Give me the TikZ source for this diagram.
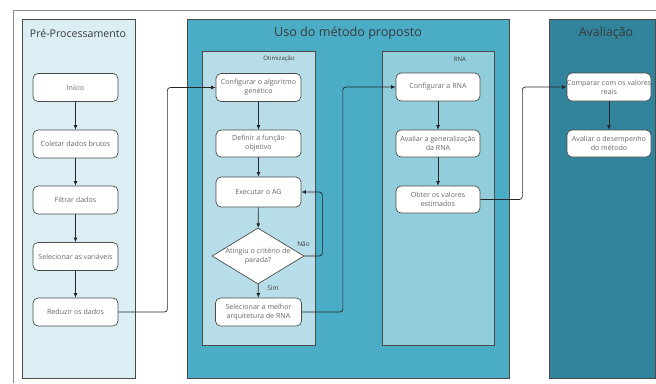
\documentclass[tikz,border=0pt]{standalone}
\usepackage{fontspec}
\setmainfont{Open Sans}
\usetikzlibrary{shapes.geometric,arrows.meta}
\definecolor{laneA}{HTML}{DBEEF4}
\definecolor{laneB}{HTML}{4BACC6}
\definecolor{laneC}{HTML}{31849B}
\definecolor{subA}{HTML}{B7DEE8}
\definecolor{subB}{HTML}{92CDDC}
\definecolor{edgegray}{HTML}{4A4A4A}
\definecolor{txtgray}{HTML}{666666}
\definecolor{titlegray}{HTML}{3A3A3A}
\definecolor{framegray}{HTML}{8C8C8C}
\newcommand{\fixline}[1]{\makebox[0pt]{#1}}
\tikzset{
  lanebox/.style={draw=edgegray, line width=0.7pt},
  subbox/.style={draw=edgegray, line width=0.7pt},
  stepbox/.style={draw=edgegray, fill=white, line width=0.7pt, rounded corners=5pt,
    minimum width=85pt, minimum height=28pt, align=center, text=txtgray,
    font=\fontsize{7.1}{8.8}\selectfont, inner sep=1pt},
  decbox/.style={diamond, draw=edgegray, fill=white, line width=0.7pt,
    minimum width=92pt, minimum height=56pt, align=center, text=txtgray,
    font=\fontsize{7.1}{8.8}\selectfont, inner sep=0pt},
  conn/.style={draw=black!85, line width=0.7pt, -{Latex[length=4.5pt,width=4pt]}},
  link/.style={conn, rounded corners=3pt},
  lanetitle/.style={text=titlegray, font=\fontsize{10.6}{13}\selectfont},
  subtitle/.style={text=titlegray, font=\fontsize{6}{7}\selectfont},
  edgelabel/.style={text=titlegray, font=\fontsize{6.5}{7.5}\selectfont, inner sep=0pt}
}
\begin{document}
\begin{tikzpicture}[x=1pt,y=-1pt]
\useasboundingbox (0,0) rectangle (656,383);
% frame
\draw[framegray, line width=0.8pt] (13,383) -- (13,10) -- (656,10);
% lanes
\draw[lanebox, fill=laneA] (22,19) rectangle (135,378);
\draw[lanebox, fill=laneB] (187,19) rectangle (509,378);
\draw[lanebox, fill=laneC] (549,19) rectangle (655,378);
\draw[subbox, fill=subA] (202,51) rectangle (315,345);
\draw[subbox, fill=subB] (382,51) rectangle (494,345);
% titles
\node[lanetitle] (t1) at (78,33) {Pré-Processamento};
\node[lanetitle, font=\fontsize{12.6}{15}\selectfont] (t2) at (348,33) {Uso do método proposto};
\node[lanetitle, font=\fontsize{12.4}{15}\selectfont] (t3) at (606,33) {Avaliação};
\node[subtitle] (s1) at (279,59) {Otimização};
\node[subtitle] (s2) at (460,59) {RNA};
% lane 1
\node[stepbox] (inicio) at (75.5,87.5) {Início};
\node[stepbox] (coletar) at (75.5,144) {\fixline{Coletar dados brutos}};
\node[stepbox] (filtrar) at (75.5,200) {Filtrar dados};
\node[stepbox] (selvar) at (75.5,256.5) {\fixline{Selecionar as variáveis}};
\node[stepbox] (reduzir) at (75.5,312) {Reduzir os dados};
% otimizacao
\node[stepbox] (conf) at (258.5,87.5) {\fixline{Configurar o algoritmo}\\genético};
\node[stepbox, minimum height=27pt] (def) at (258.5,143.5) {Definir a função\\objetivo};
\node[stepbox, minimum height=30pt] (exec) at (258.5,192) {Executar o AG};
\node[decbox] (diam) at (258,256) {\fixline{Atingiu o critério de}\\\fixline{parada?}};
\node[stepbox, minimum width=86pt] (melhor) at (258.5,312) {\fixline{Selecionar a melhor}\\\fixline{arquitetura de RNA}};
% RNA
\node[stepbox, minimum width=84pt] (confrna) at (438,87) {Configurar a RNA};
\node[stepbox, minimum width=84pt, minimum height=27pt] (aval) at (438,143.5) {\fixline{Avaliar a generalização}\\da RNA};
\node[stepbox, minimum width=84pt, minimum height=27pt] (obter) at (438,199.5) {Obter os valores\\estimados};
% avaliacao
\node[stepbox, minimum width=84pt] (comp) at (609,87) {\fixline{Comparar com os valores}\\reais};
\node[stepbox, minimum width=84pt, minimum height=27pt] (desemp) at (609,143.5) {\fixline{Avaliar o desempenho}\\do método};
% connectors
\draw[conn] (inicio) -- (coletar);
\draw[conn] (coletar) -- (filtrar);
\draw[conn] (filtrar) -- (selvar);
\draw[conn] (selvar) -- (reduzir);
\draw[link] (reduzir.east) -- ++(49,0) |- (conf.west);
\draw[conn] (conf) -- (def);
\draw[conn] (def) -- (exec);
\draw[conn] (exec) -- (diam);
\draw[conn] (diam) -- (melhor);
\node[edgelabel] (sim) at (273,288) {Sim};
\draw[link] (diam.east) -- ++(18,0) |- (exec.east);
\node[edgelabel] (nao) at (303.5,244) {Não};
\draw[link] (melhor.east) -- ++(41,0) |- (confrna.west);
\draw[conn] (confrna) -- (aval);
\draw[conn] (aval) -- (obter);
\draw[link] (obter.east) -- ++(42,0) |- (comp.west);
\draw[conn] (comp) -- (desemp);
\end{tikzpicture}
\end{document}
